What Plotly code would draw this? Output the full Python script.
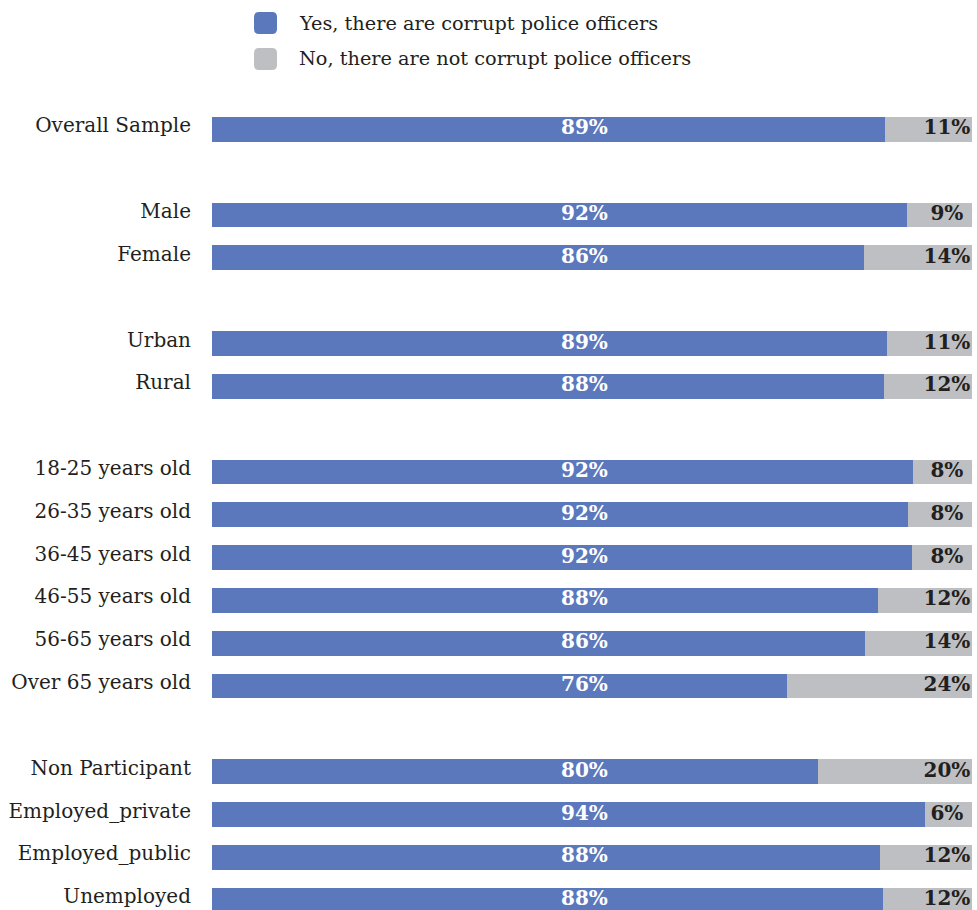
import plotly.graph_objects as go

# Share of respondents who say there are corrupt police officers, by group
categories = [
    "Overall Sample",
    "Male", "Female",
    "Urban", "Rural",
    "18-25 years old", "26-35 years old", "36-45 years old",
    "46-55 years old", "56-65 years old", "Over 65 years old",
    "Non Participant", "Employed_private", "Employed_public", "Unemployed",
]
yes_pct = [88.6, 91.5, 85.8, 88.8, 88.4, 92.3, 91.6, 92.1, 87.6, 85.9, 75.6,
           79.8, 93.8, 87.9, 88.3]
no_pct = [11.4, 8.5, 14.2, 11.2, 11.6, 7.7, 8.4, 7.9, 12.4, 14.1, 24.4,
          20.2, 6.2, 12.1, 11.7]
group_sizes = [1, 2, 2, 6, 4]
series_names = ["Yes, there are corrupt police officers",
                "No, there are not corrupt police officers"]

# row positions, with one empty row between groups
slots = []
pos = 0
for size in group_sizes:
    slots.extend(range(pos, pos + size))
    pos += size + 1

BLUE = "#5b78bd"
GREY = "#bebfc3"
INK = "#231f20"
FONT = "DejaVu Serif"

W, H = 977, 910
M_L, M_R, M_T, M_B = 212, 5, 108, 0
ROW_PX = 42.82
y_top = -0.5
y_bottom = y_top + (H - M_T - M_B) / ROW_PX

fig = go.Figure()
fig.add_bar(y=slots, x=yes_pct, orientation="h", name=series_names[0],
            marker=dict(color=BLUE, line=dict(width=0)), width=0.58,
            hoverinfo="skip", showlegend=False)
fig.add_bar(y=slots, x=no_pct, orientation="h", name=series_names[1],
            marker=dict(color=GREY, line=dict(width=0)), width=0.58,
            hoverinfo="skip", showlegend=False)

# value labels
fig.add_scatter(x=[49] * len(slots), y=slots, mode="text", text=yes_pct,
                texttemplate="%{text:.0f}%", textposition="middle center",
                textfont=dict(family=FONT, size=20, color="white", weight="bold"),
                cliponaxis=False, showlegend=False, hoverinfo="skip")
fig.add_scatter(x=[96.7] * len(slots), y=slots, mode="text", text=no_pct,
                texttemplate="%{text:.0f}%", textposition="middle center",
                textfont=dict(family=FONT, size=20, color=INK, weight="bold"),
                cliponaxis=False, showlegend=False, hoverinfo="skip")

# legend drawn as rounded swatches + text
pw = W - M_L - M_R
ph = H - M_T - M_B


def px_x(x):
    return (x - M_L) / pw


def px_y(y):
    return (H - M_B - y) / ph


def rounded_rect(x0, y0, x1, y1, r):
    pts = [
        f"M {px_x(x0 + r)},{px_y(y0)}",
        f"L {px_x(x1 - r)},{px_y(y0)}",
        f"Q {px_x(x1)},{px_y(y0)} {px_x(x1)},{px_y(y0 + r)}",
        f"L {px_x(x1)},{px_y(y1 - r)}",
        f"Q {px_x(x1)},{px_y(y1)} {px_x(x1 - r)},{px_y(y1)}",
        f"L {px_x(x0 + r)},{px_y(y1)}",
        f"Q {px_x(x0)},{px_y(y1)} {px_x(x0)},{px_y(y1 - r)}",
        f"L {px_x(x0)},{px_y(y0 + r)}",
        f"Q {px_x(x0)},{px_y(y0)} {px_x(x0 + r)},{px_y(y0)}",
        "Z",
    ]
    return " ".join(pts)


shapes = []
annotations = []
for i, (name, col) in enumerate(zip(series_names, [BLUE, GREY])):
    top = 12 + i * 36
    shapes.append(dict(type="path", xref="paper", yref="paper",
                       path=rounded_rect(254, top, 277, top + 22, 5),
                       fillcolor=col, line=dict(width=0), layer="above"))
    annotations.append(dict(xref="paper", yref="paper", x=px_x(297),
                            y=px_y(top + 11), xanchor="left", yanchor="middle",
                            text=name, showarrow=False,
                            font=dict(family=FONT, size=19.3, color=INK)))

fig.update_layout(
    width=W, height=H,
    margin=dict(l=M_L, r=M_R, t=M_T, b=M_B, pad=0, autoexpand=False),
    barmode="stack",
    bargap=0,
    plot_bgcolor="white", paper_bgcolor="white",
    font=dict(family=FONT, size=20, color=INK),
    shapes=shapes, annotations=annotations,
    showlegend=False,
    xaxis=dict(range=[0, 100], visible=False, fixedrange=True,
               automargin=False),
    yaxis=dict(range=[y_bottom, y_top], tickmode="array", tickvals=slots,
               ticktext=categories, showgrid=False, zeroline=False,
               showline=False, ticks="", ticklabelstandoff=20,
               ticklabelshift=4, ticklabeloverflow="allow", automargin=False,
               tickfont=dict(family=FONT, size=20, color=INK),
               fixedrange=True),
)

fig.write_html("out.html")
